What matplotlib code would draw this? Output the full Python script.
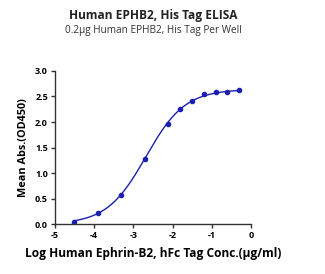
import numpy as np
import matplotlib
matplotlib.use('Agg')
import matplotlib.pyplot as plt

# --- Data ---
log_conc = [-4.515, -3.913, -3.311, -2.709, -2.107, -1.806, -1.505, -1.204, -0.903, -0.602, -0.301]
od450 = [0.05, 0.22, 0.57, 1.27, 1.97, 2.25, 2.42, 2.54, 2.58, 2.59, 2.62]

# 4PL fit parameters (bottom, top, logEC50, hill)
fit_bottom = 0.0
fit_top = 2.64
fit_logec50 = -2.68
fit_hill = 0.87

x_ticks = [-5, -4, -3, -2, -1, 0]
y_ticks = [0.0, 0.5, 1.0, 1.5, 2.0, 2.5, 3.0]

color = '#1a1fb0'
plt.rcParams['font.family'] = ['Open Sans', 'DejaVu Sans']

fig = plt.figure(figsize=(3.25, 2.74), dpi=100)
ax = fig.add_axes([0.169, 0.182, 0.603, 0.559])

xs = np.linspace(min(log_conc), max(log_conc), 200)
ys = fit_bottom + (fit_top - fit_bottom) / (1 + 10 ** ((fit_logec50 - xs) * fit_hill))
ax.plot(xs, ys, color=color, linewidth=1.0)
ax.plot(log_conc, od450, 'o', color=color, markersize=3.0)

ax.set_xlim(-5, 0)
ax.set_ylim(0, 3.0)
ax.set_xticks(x_ticks)
ax.set_xticklabels([str(t) for t in x_ticks])
ax.set_yticks(y_ticks)
ax.set_yticklabels([f'{t:.1f}' for t in y_ticks])
ax.spines['top'].set_visible(False)
ax.spines['right'].set_visible(False)
for s in ['left', 'bottom']:
    ax.spines[s].set_linewidth(1.0)
    ax.spines[s].set_color('#333333')
ax.tick_params(direction='out', length=3, width=1.0, color='#333333',
               labelsize=6.5, pad=2)
for lab in ax.get_xticklabels() + ax.get_yticklabels():
    lab.set_fontweight('bold')

ax.set_xlabel('Log Human Ephrin-B2, hFc Tag Conc.(\u03bcg/ml)', fontsize=8.6,
              fontweight='bold', labelpad=5)
ax.set_ylabel('Mean Abs.(OD450)', fontsize=7.8, fontweight='bold', labelpad=4)

fig.text(0.471, 0.945, 'Human EPHB2, His Tag ELISA', ha='center', va='center',
         fontsize=8.6, fontweight='bold', color='#222222')
fig.text(0.471, 0.887, '0.2\u03bcg Human EPHB2, His Tag Per Well', ha='center',
         va='center', fontsize=7.2, color='#333333')

fig.savefig('out.png', dpi=100)
